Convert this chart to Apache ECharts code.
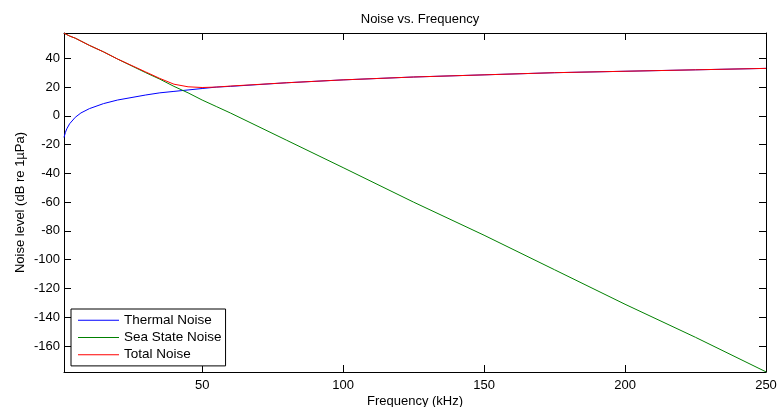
<!DOCTYPE html>
<html>
<head>
<meta charset="utf-8">
<script src="https://cdn.jsdelivr.net/npm/echarts@6/dist/echarts.min.js"></script>
<style>
  html, body { margin: 0; padding: 0; background: #fff; }
  #chart { width: 778px; height: 407px; }
</style>
</head>
<body>
<div id="chart"></div>
<script>
// values (kHz, dB re 1uPa)
const freqs = [1, 1.5, 2, 3, 5, 7, 10, 15, 20, 30, 35, 40, 45, 50, 55, 60, 80, 100, 125, 150, 175, 200, 225, 250];
const thermalNoise = [-15, -11.5, -9, -5.5, -1, 2, 5, 8.5, 11, 14.5, 16, 17, 18, 19, 20, 20.5, 23, 25, 27, 28.5, 30, 31, 32, 33];
const seaStateNoise = [57.5, 57, 56.5, 55.5, 54, 52, 49, 44.5, 39.5, 30, 25.5, 20.5, 16, 11, 6.5, 2, -17, -36, -60, -83, -107, -131, -154, -178];
const totalNoise = [57.5, 57, 56.5, 55.5, 54, 52, 49, 44.5, 39.5, 30.5, 26, 22, 20.2, 19.7, 20, 20.7, 23, 25, 27, 28.5, 30, 31, 32, 33];

const xTicks = [50, 100, 150, 200, 250];
const yTicks = [-160, -140, -120, -100, -80, -60, -40, -20, 0, 20, 40];

const font = 'Liberation Sans, Arial, sans-serif';
const pairs = (ys) => freqs.map((f, i) => [f, ys[i]]);

const chart = echarts.init(document.getElementById('chart'));

const tick = { show: true, inside: true, length: 7, lineStyle: { color: '#000', width: 1 } };
const line = { show: true, lineStyle: { color: '#000', width: 1 } };

function xAxis(pos, labels) {
  return {
    type: 'value', position: pos, min: 1, max: 250,
    splitLine: { show: false },
    axisLine: { ...line, onZero: false },
    axisTick: { ...tick, customValues: xTicks },
    axisLabel: {
      show: labels, customValues: xTicks, margin: 7,
      color: '#000', fontFamily: font, fontSize: 13
    }
  };
}

function yAxis(pos, labels) {
  return {
    type: 'value', position: pos, min: -178.1, max: 57.6,
    splitLine: { show: false },
    axisLine: { ...line, onZero: false },
    axisTick: { ...tick, customValues: yTicks },
    axisLabel: {
      show: labels, customValues: yTicks, margin: 4,
      color: '#000', fontFamily: font, fontSize: 13
    }
  };
}

const xMain = xAxis('bottom', true);
xMain.name = 'Frequency (kHz)';
xMain.nameLocation = 'middle';
xMain.nameGap = 23;
xMain.nameMoveOverlap = false;
xMain.nameTextStyle = { color: '#000', fontFamily: font, fontSize: 13 };

const yMain = yAxis('left', true);
yMain.name = 'Noise level (dB re 1\u00b5Pa)';
yMain.nameLocation = 'middle';
yMain.nameGap = 37;
yMain.nameMoveOverlap = false;
yMain.nameTextStyle = { color: '#000', fontFamily: font, fontSize: 13 };

function series(name, ys, color) {
  return {
    name, type: 'line', data: pairs(ys),
    xAxisIndex: 0, yAxisIndex: 0,
    showSymbol: false, symbol: 'none', smooth: false,
    lineStyle: { color, width: 1 }, itemStyle: { color },
    animation: false
  };
}

chart.setOption({
  animation: false,
  backgroundColor: '#fff',
  title: {
    text: 'Noise vs. Frequency',
    left: 415, top: 8, textAlign: 'center',
    textStyle: { color: '#000', fontFamily: font, fontSize: 13, fontWeight: 'normal' }
  },
  grid: {
    left: 64, top: 33, right: 12, bottom: 35,
    containLabel: false, outerBoundsMode: 'none'
  },
  xAxis: [xMain, xAxis('top', false)],
  yAxis: [yMain, yAxis('right', false)],
  legend: {
    orient: 'vertical', left: 71, top: 309,
    backgroundColor: '#fff', borderColor: '#000', borderWidth: 1,
    padding: [4, 4, 4, 7],
    itemWidth: 41, itemHeight: 1, itemGap: 3,
    icon: 'rect',
    textStyle: { color: '#000', fontFamily: font, fontSize: 13.5, lineHeight: 14.3 },
    data: ['Thermal Noise', 'Sea State Noise', 'Total Noise']
  },
  series: [
    series('Thermal Noise', thermalNoise, '#0000ff'),
    series('Sea State Noise', seaStateNoise, '#008000'),
    series('Total Noise', totalNoise, '#ff0000')
  ]
});
</script>
</body>
</html>
